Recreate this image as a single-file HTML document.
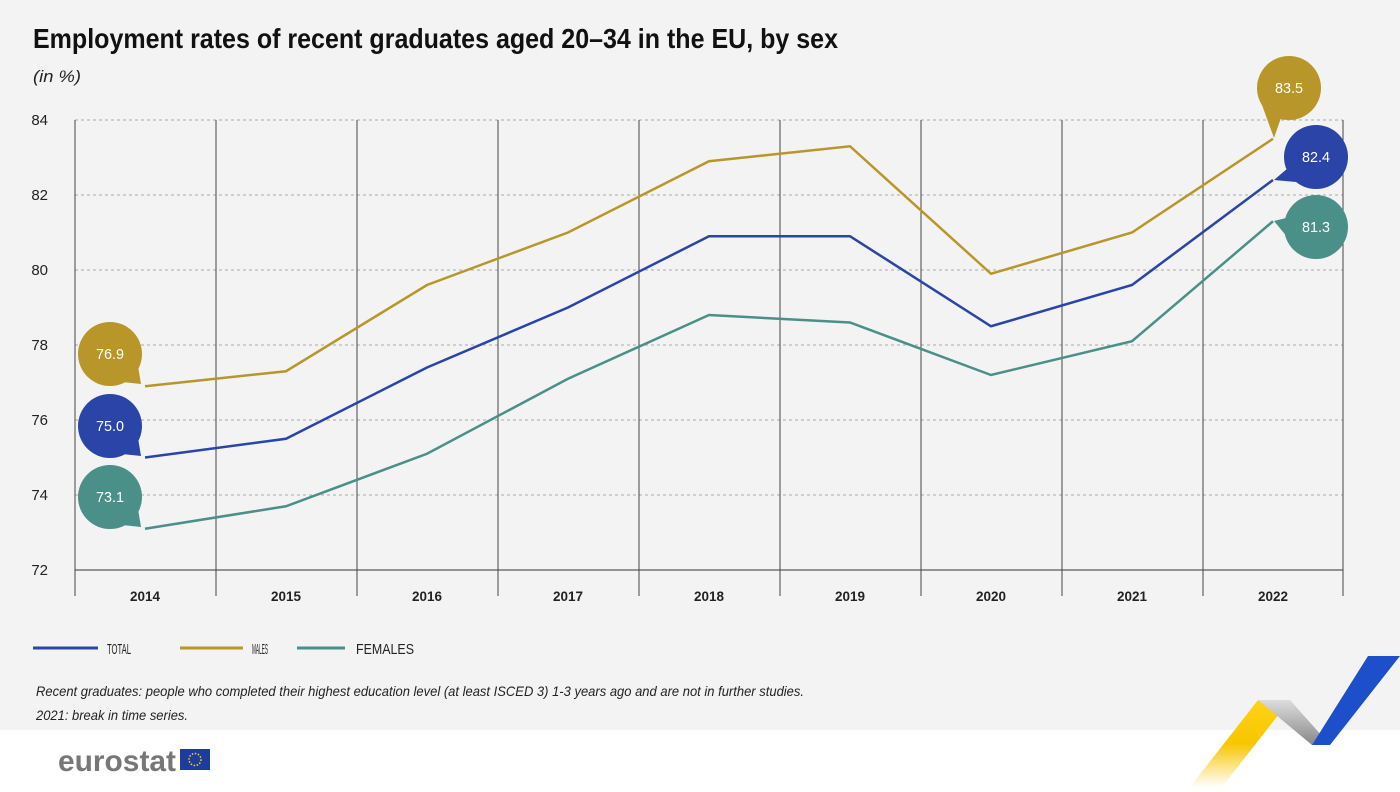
<!DOCTYPE html>
<html><head><meta charset="utf-8"><style>
body{margin:0;width:1400px;height:787px;overflow:hidden;background:#fff;font-family:"Liberation Sans",sans-serif}
</style></head><body>
<svg width="1400" height="787" xmlns="http://www.w3.org/2000/svg" font-family="Liberation Sans, sans-serif">
<rect width="1400" height="730" fill="#f3f3f3"/>
<text x="33" y="48" font-size="28" font-weight="bold" fill="#111" textLength="805" lengthAdjust="spacingAndGlyphs">Employment rates of recent graduates aged 20–34 in the EU, by sex</text>
<text x="33" y="82" font-size="17" font-style="italic" fill="#222" textLength="48" lengthAdjust="spacingAndGlyphs">(in %)</text>
<g stroke="#aaa" stroke-dasharray="3,3" stroke-width="1">
<line x1="75" x2="1343" y1="120" y2="120"/><line x1="75" x2="1343" y1="195" y2="195"/><line x1="75" x2="1343" y1="270" y2="270"/><line x1="75" x2="1343" y1="345" y2="345"/><line x1="75" x2="1343" y1="420" y2="420"/><line x1="75" x2="1343" y1="495" y2="495"/>
</g>
<line x1="75" x2="1343" y1="570" y2="570" stroke="#333"/>
<g stroke="#444" stroke-width="1">
<line x1="75" x2="75" y1="120" y2="596"/><line x1="216" x2="216" y1="120" y2="596"/><line x1="357" x2="357" y1="120" y2="596"/><line x1="498" x2="498" y1="120" y2="596"/><line x1="639" x2="639" y1="120" y2="596"/><line x1="780" x2="780" y1="120" y2="596"/><line x1="921" x2="921" y1="120" y2="596"/><line x1="1062" x2="1062" y1="120" y2="596"/><line x1="1203" x2="1203" y1="120" y2="596"/><line x1="1343" x2="1343" y1="120" y2="596"/>
</g>
<g font-size="15" fill="#222" text-anchor="end">
<text x="48" y="125">84</text><text x="48" y="200">82</text><text x="48" y="275">80</text><text x="48" y="350">78</text><text x="48" y="425">76</text><text x="48" y="500">74</text><text x="48" y="575">72</text>
</g>
<g font-size="14" font-weight="bold" fill="#222" text-anchor="middle">
<text x="145" y="601" textLength="30" lengthAdjust="spacingAndGlyphs">2014</text><text x="286" y="601" textLength="30" lengthAdjust="spacingAndGlyphs">2015</text><text x="427" y="601" textLength="30" lengthAdjust="spacingAndGlyphs">2016</text><text x="568" y="601" textLength="30" lengthAdjust="spacingAndGlyphs">2017</text><text x="709" y="601" textLength="30" lengthAdjust="spacingAndGlyphs">2018</text><text x="850" y="601" textLength="30" lengthAdjust="spacingAndGlyphs">2019</text><text x="991" y="601" textLength="30" lengthAdjust="spacingAndGlyphs">2020</text><text x="1132" y="601" textLength="30" lengthAdjust="spacingAndGlyphs">2021</text><text x="1273" y="601" textLength="30" lengthAdjust="spacingAndGlyphs">2022</text>
</g>
<g fill="none" stroke-width="2.5">
<polyline stroke="#b8962a" points="145,386.25 286,371.25 427,285 568,232.5 709,161.25 850,146.25 991,273.75 1132,232.5 1273,138.75"/>
<polyline stroke="#2a44a8" points="145,457.5 286,438.75 427,367.5 568,307.5 709,236.25 850,236.25 991,326.25 1132,285 1273,180"/>
<polyline stroke="#4a8f88" points="145,528.75 286,506.25 427,453.75 568,378.75 709,315 850,322.5 991,375 1132,341.25 1273,221.25"/>
</g>
<g font-size="15" fill="#fff" text-anchor="middle">
<circle cx="110" cy="354" r="32" fill="#b8962a"/><polygon points="122,382 141,384 137,360" fill="#b8962a"/><text x="110" y="359" textLength="28" lengthAdjust="spacingAndGlyphs">76.9</text>
<circle cx="110" cy="426" r="32" fill="#2a44a8"/><polygon points="122,454 141,456 137,432" fill="#2a44a8"/><text x="110" y="431" textLength="28" lengthAdjust="spacingAndGlyphs">75.0</text>
<circle cx="110" cy="497" r="32" fill="#4a8f88"/><polygon points="122,525 141,527 137,503" fill="#4a8f88"/><text x="110" y="502" textLength="28" lengthAdjust="spacingAndGlyphs">73.1</text>
<circle cx="1289" cy="88" r="32" fill="#b8962a"/><polygon points="1262,105 1274,138 1282,115" fill="#b8962a"/><text x="1289" y="93" textLength="28" lengthAdjust="spacingAndGlyphs">83.5</text>
<circle cx="1316" cy="157" r="32" fill="#2a44a8"/><polygon points="1288,168 1274,180 1296,182" fill="#2a44a8"/><text x="1316" y="162" textLength="28" lengthAdjust="spacingAndGlyphs">82.4</text>
<circle cx="1316" cy="227" r="32" fill="#4a8f88"/><polygon points="1286,218 1274,221 1288,238" fill="#4a8f88"/><text x="1316" y="232" textLength="28" lengthAdjust="spacingAndGlyphs">81.3</text>
</g>
<g stroke-width="3">
<line x1="33" x2="98" y1="648" y2="648" stroke="#2a44a8"/>
<line x1="180" x2="243" y1="648" y2="648" stroke="#b8962a"/>
<line x1="297" x2="345" y1="648" y2="648" stroke="#4a8f88"/>
</g>
<g font-size="15" fill="#222">
<text x="107" y="654" textLength="24" lengthAdjust="spacingAndGlyphs">TOTAL</text><text x="252" y="654" textLength="16" lengthAdjust="spacingAndGlyphs">MALES</text><text x="356" y="654" textLength="58" lengthAdjust="spacingAndGlyphs">FEMALES</text>
</g>
<g font-size="14" font-style="italic" fill="#222">
<text x="36" y="696" textLength="768" lengthAdjust="spacingAndGlyphs">Recent graduates: people who completed their highest education level (at least ISCED 3) 1-3 years ago and are not in further studies.</text>
<text x="36" y="720" textLength="152" lengthAdjust="spacingAndGlyphs">2021: break in time series.</text>
</g>
<defs>
<linearGradient id="gy" x1="0" y1="1" x2="0" y2="0"><stop offset="0" stop-color="#fff"/><stop offset="0.5" stop-color="#f7c600"/><stop offset="1" stop-color="#ffd21a"/></linearGradient>
<linearGradient id="gg" x1="0" y1="0" x2="0" y2="1"><stop offset="0" stop-color="#ddd"/><stop offset="1" stop-color="#888"/></linearGradient>
</defs>
<polygon points="1190,787 1258,700 1290,700 1222,787" fill="url(#gy)"/>
<polygon points="1258,700 1290,700 1330,745 1312,745" fill="url(#gg)"/>
<polygon points="1312,745 1368,656 1400,656 1330,745" fill="#1c4fc9"/>
<text x="58" y="771" font-size="30" font-weight="bold" fill="#777" textLength="118" lengthAdjust="spacingAndGlyphs">eurostat</text>
<rect x="180" y="749" width="30" height="21" fill="#1d3c9c"/>
<circle cx="195" cy="759.5" r="6" fill="none" stroke="#f7d117" stroke-width="1.5" stroke-dasharray="1.5,1.6"/>
</svg>
</body></html>
